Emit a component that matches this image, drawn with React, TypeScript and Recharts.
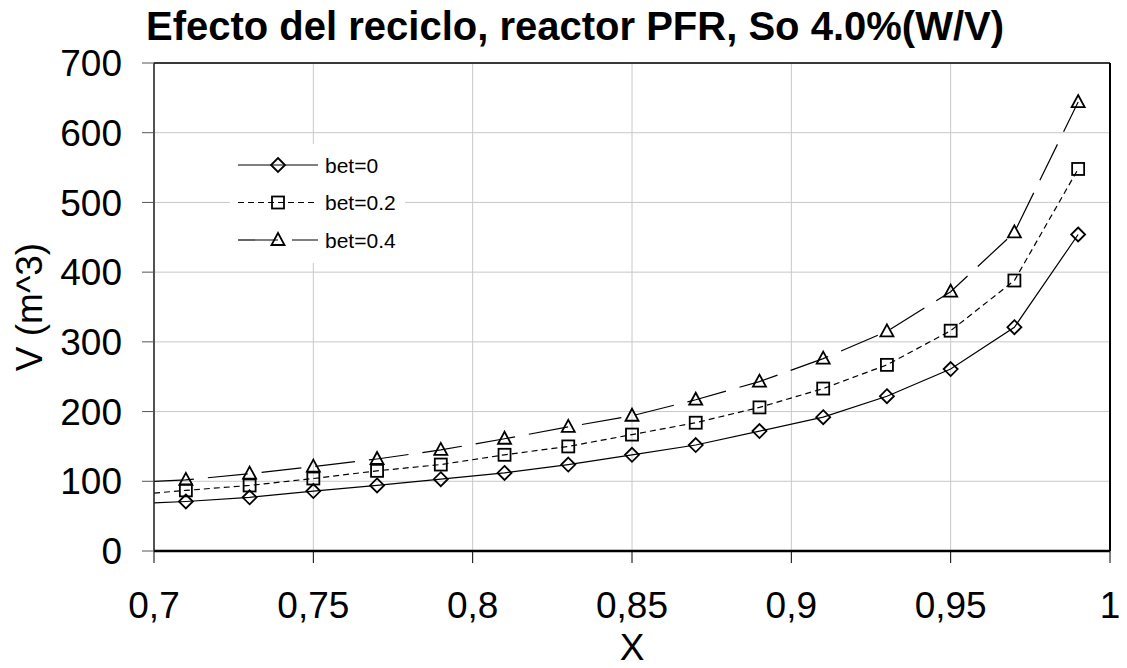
import { LineChart, Line, XAxis, YAxis, CartesianGrid, ReferenceLine } from 'recharts'

// conversion X and reactor volume for each recycle ratio
const xValues = [0.7, 0.71, 0.73, 0.75, 0.77, 0.79, 0.81, 0.83, 0.85, 0.87, 0.89, 0.91, 0.93, 0.95, 0.97, 0.99]
const bet0 = [69, 71, 77, 86, 94, 103, 112, 124, 138, 152, 172, 192, 222, 261, 321, 454]
const bet02 = [83, 87, 94, 104, 115, 124, 138, 150, 167, 184, 206, 233, 267, 316, 388, 548]
const bet04 = [100, 102, 111, 121, 132, 145, 161, 178, 194, 217, 243, 276, 315, 372, 457, 644]

const xTicks = [0.7, 0.75, 0.8, 0.85, 0.9, 0.95, 1]
const yTicks = [0, 100, 200, 300, 400, 500, 600, 700]

const title = 'Efecto del reciclo, reactor PFR, So 4.0%(W/V)'
const font = '"Liberation Sans", Arial, sans-serif'

type Shape = 'diamond' | 'square' | 'triangle'

const series: { key: string; name: string; shape: Shape; dash?: string }[] = [
  { key: 'bet0', name: 'bet=0', shape: 'diamond' },
  { key: 'bet02', name: 'bet=0.2', shape: 'square', dash: '6 4' },
  { key: 'bet04', name: 'bet=0.4', shape: 'triangle', dash: '40 14' },
]

const data = xValues.map((x, i) => ({ x, bet0: bet0[i], bet02: bet02[i], bet04: bet04[i] }))

function Marker({ shape, cx, cy }: { shape: Shape; cx: number; cy: number }) {
  const common = { fill: 'none', stroke: '#000', strokeWidth: 1.8 }
  if (shape === 'diamond') {
    return <path d={`M${cx} ${cy - 7} L${cx + 7} ${cy} L${cx} ${cy + 7} L${cx - 7} ${cy} Z`} {...common} />
  }
  if (shape === 'square') {
    return <rect x={cx - 6} y={cy - 6} width={12} height={12} {...common} />
  }
  return <path d={`M${cx} ${cy - 7} L${cx + 6.5} ${cy + 5} L${cx - 6.5} ${cy + 5} Z`} {...common} />
}

// legend box sits inside the plot, over the grid
function LegendBox() {
  return (
    <g transform="translate(230, 144)">
      <rect width={175} height={119} fill="#fff" />
      {series.map((s, i) => {
        const y = 21 + i * 37.5
        return (
          <g key={s.key}>
            <line x1={8} x2={88} y1={y} y2={y} stroke="#000" strokeWidth={1.2} strokeDasharray={s.dash} />
            <Marker shape={s.shape} cx={48} cy={y} />
            <text x={95} y={y + 7.5} fontSize={21} fontFamily={font} fill="#000">
              {s.name}
            </text>
          </g>
        )
      })}
    </g>
  )
}

const fmtX = (v: number) => String(v).replace('.', ',')

export default function App() {
  return (
    <div style={{ position: 'absolute', left: 0, top: 0, width: 1127, height: 668, background: '#fff' }}>
      <LineChart width={1127} height={668} data={data} margin={{ top: 63, right: 17, left: 0, bottom: 0 }}>
        <CartesianGrid stroke="#c8c8c8" strokeWidth={1} />
        <XAxis
          dataKey="x"
          type="number"
          domain={[0.7, 1]}
          ticks={xTicks}
          tickFormatter={fmtX}
          height={117}
          tickSize={12}
          tickMargin={29}
          axisLine={{ stroke: '#000', strokeWidth: 2.5 }}
          tickLine={{ stroke: '#000' }}
          tick={{ fill: '#000', fontSize: 37, fontFamily: font }}
          label={{ value: 'X', position: 'insideBottom', offset: 8, fill: '#000', fontSize: 37, fontFamily: font }}
        />
        <YAxis
          type="number"
          domain={[0, 700]}
          ticks={yTicks}
          width={154}
          tickSize={12}
          tickMargin={20}
          axisLine={{ stroke: '#222', strokeWidth: 1.5 }}
          tickLine={{ stroke: '#555' }}
          tick={{ fill: '#000', fontSize: 37, fontFamily: font }}
          label={({ viewBox }: any) => (
            <text
              x={42}
              y={viewBox.y + viewBox.height / 2}
              transform={`rotate(-90, 42, ${viewBox.y + viewBox.height / 2})`}
              textAnchor="middle"
              fontSize={37}
              fontFamily={font}
              fill="#000"
            >
              V (m^3)
            </text>
          )}
        />
        <ReferenceLine y={700} stroke="#000" strokeWidth={1.5} />
        <ReferenceLine x={1} stroke="#000" strokeWidth={2} />
        <LegendBox />
        {series.map(s => (
          <Line
            key={s.key}
            dataKey={s.key}
            name={s.name}
            type="linear"
            stroke="#000"
            strokeWidth={1.2}
            strokeDasharray={s.dash}
            isAnimationActive={false}
            dot={(p: any) =>
              p.index === 0 ? (
                <g key={`${s.key}-${p.index}`} />
              ) : (
                <g key={`${s.key}-${p.index}`}>
                  <Marker shape={s.shape} cx={p.cx} cy={p.cy} />
                </g>
              )
            }
            activeDot={false}
          />
        ))}
        <text x={575} y={40} textAnchor="middle" fontSize={40} fontWeight="bold" fontFamily={font} fill="#000">
          {title}
        </text>
      </LineChart>
    </div>
  )
}
